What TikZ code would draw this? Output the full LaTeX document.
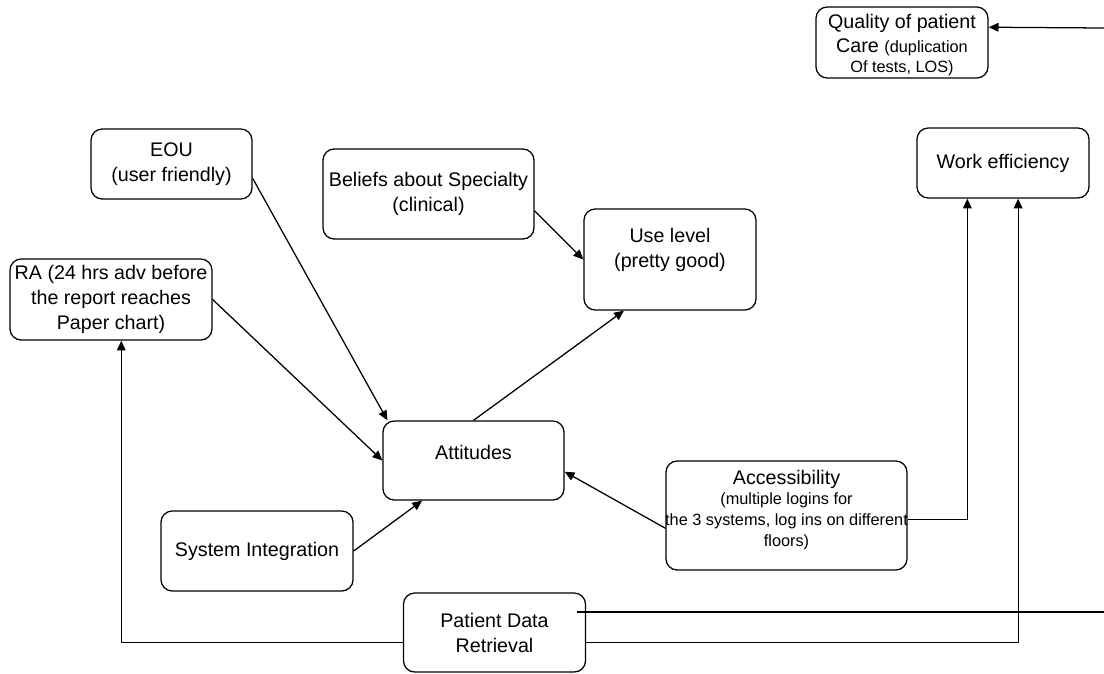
\documentclass[tikz,border=0pt]{standalone}
\usepackage{fontspec}
\setmainfont{Liberation Sans}
\usetikzlibrary{arrows.meta}
\usepackage{xcolor}

\newcommand{\subtxt}[1]{{\fontsize{11.6}{14}\selectfont #1}}

\begin{document}
\begin{tikzpicture}[x=0.025cm, y=-0.025cm, >={Triangle[length=7pt,width=6.2pt]}, line width=0.9pt,
    box/.style={draw, rounded corners=8pt, align=center, inner sep=0pt, font=\fontsize{14}{17.8}\selectfont},
    txt/.style={align=center, inner sep=0pt, font=\fontsize{14}{17.8}\selectfont}]

\useasboundingbox (0,0) rectangle (1104,673);

% boxes
\node[box, minimum width=4.3cm, minimum height=1.775cm] (qual) at (902,42.5) {};
\node[txt] (qualT) at (902,45) {Quality of patient\\[-1pt]Care \subtxt{(duplication}\\[-3.5pt]\subtxt{Of tests, LOS)}};
\node[box, minimum width=4.025cm, minimum height=1.75cm] (eou) at (171.5,164) {EOU\\(user friendly)};
\node[box, minimum width=5.275cm, minimum height=2.25cm] (bel) at (428.5,194) {Beliefs about Specialty\\(clinical)};
\node[box, minimum width=4.3cm, minimum height=2.525cm] (use) at (670,259.5) {};
\node[txt] (useT) at (670,249.5) {Use level\\(pretty good)};
\node[box, minimum width=4.3cm, minimum height=1.75cm] (work) at (1003,163) {Work efficiency};
\node[box, minimum width=5.05cm, minimum height=2.025cm] (ra) at (111,299.5)
    {RA (24 hrs adv before\\the report reaches\\Paper chart)};
\node[box, minimum width=4.525cm, minimum height=1.975cm] (att) at (473.5,460.5) {};
\node[txt] (attT) at (473.5,452) {Attitudes};
\node[box, minimum width=6.025cm, minimum height=2.725cm] (acc) at (786.5,515.5) {};
\node[txt] (accT) at (786.5,510) {Accessibility\\[-3.5pt]\subtxt{(multiple logins for}\\[-3.2pt]\subtxt{the 3 systems, log ins on different}\\[-3.2pt]\subtxt{floors)}};
\node[box, minimum width=4.8cm, minimum height=2cm] (si) at (257,551) {System Integration};
\node[box, minimum width=4.55cm, minimum height=1.975cm] (pdr) at (494.5,632.5) {Patient Data\\Retrieval};

% straight arrows
\foreach \from/\to in {eou.-10/att.155, ra.east/att.west, bel.-9/use.west, att.north/use.-132, si.east/att.218, acc.186/att.-7}
    \draw[->] (\from) -- (\to);

% elbow arrows
\draw[->] (acc.-2) -| (work.-135);
\draw[->] (pdr.-6) -| (work.-67);
\draw[->] (pdr.186) -| (ra.-76);

% lines running off the right edge
\coordinate (edgeLow) at (1104,612);
\coordinate (edgeTop) at (1104,28);
\draw ([shift={(-9,-20.5)}]pdr.east) -- (edgeLow);
\draw[->] (edgeTop) -- (qual.10);

\end{tikzpicture}
\end{document}
